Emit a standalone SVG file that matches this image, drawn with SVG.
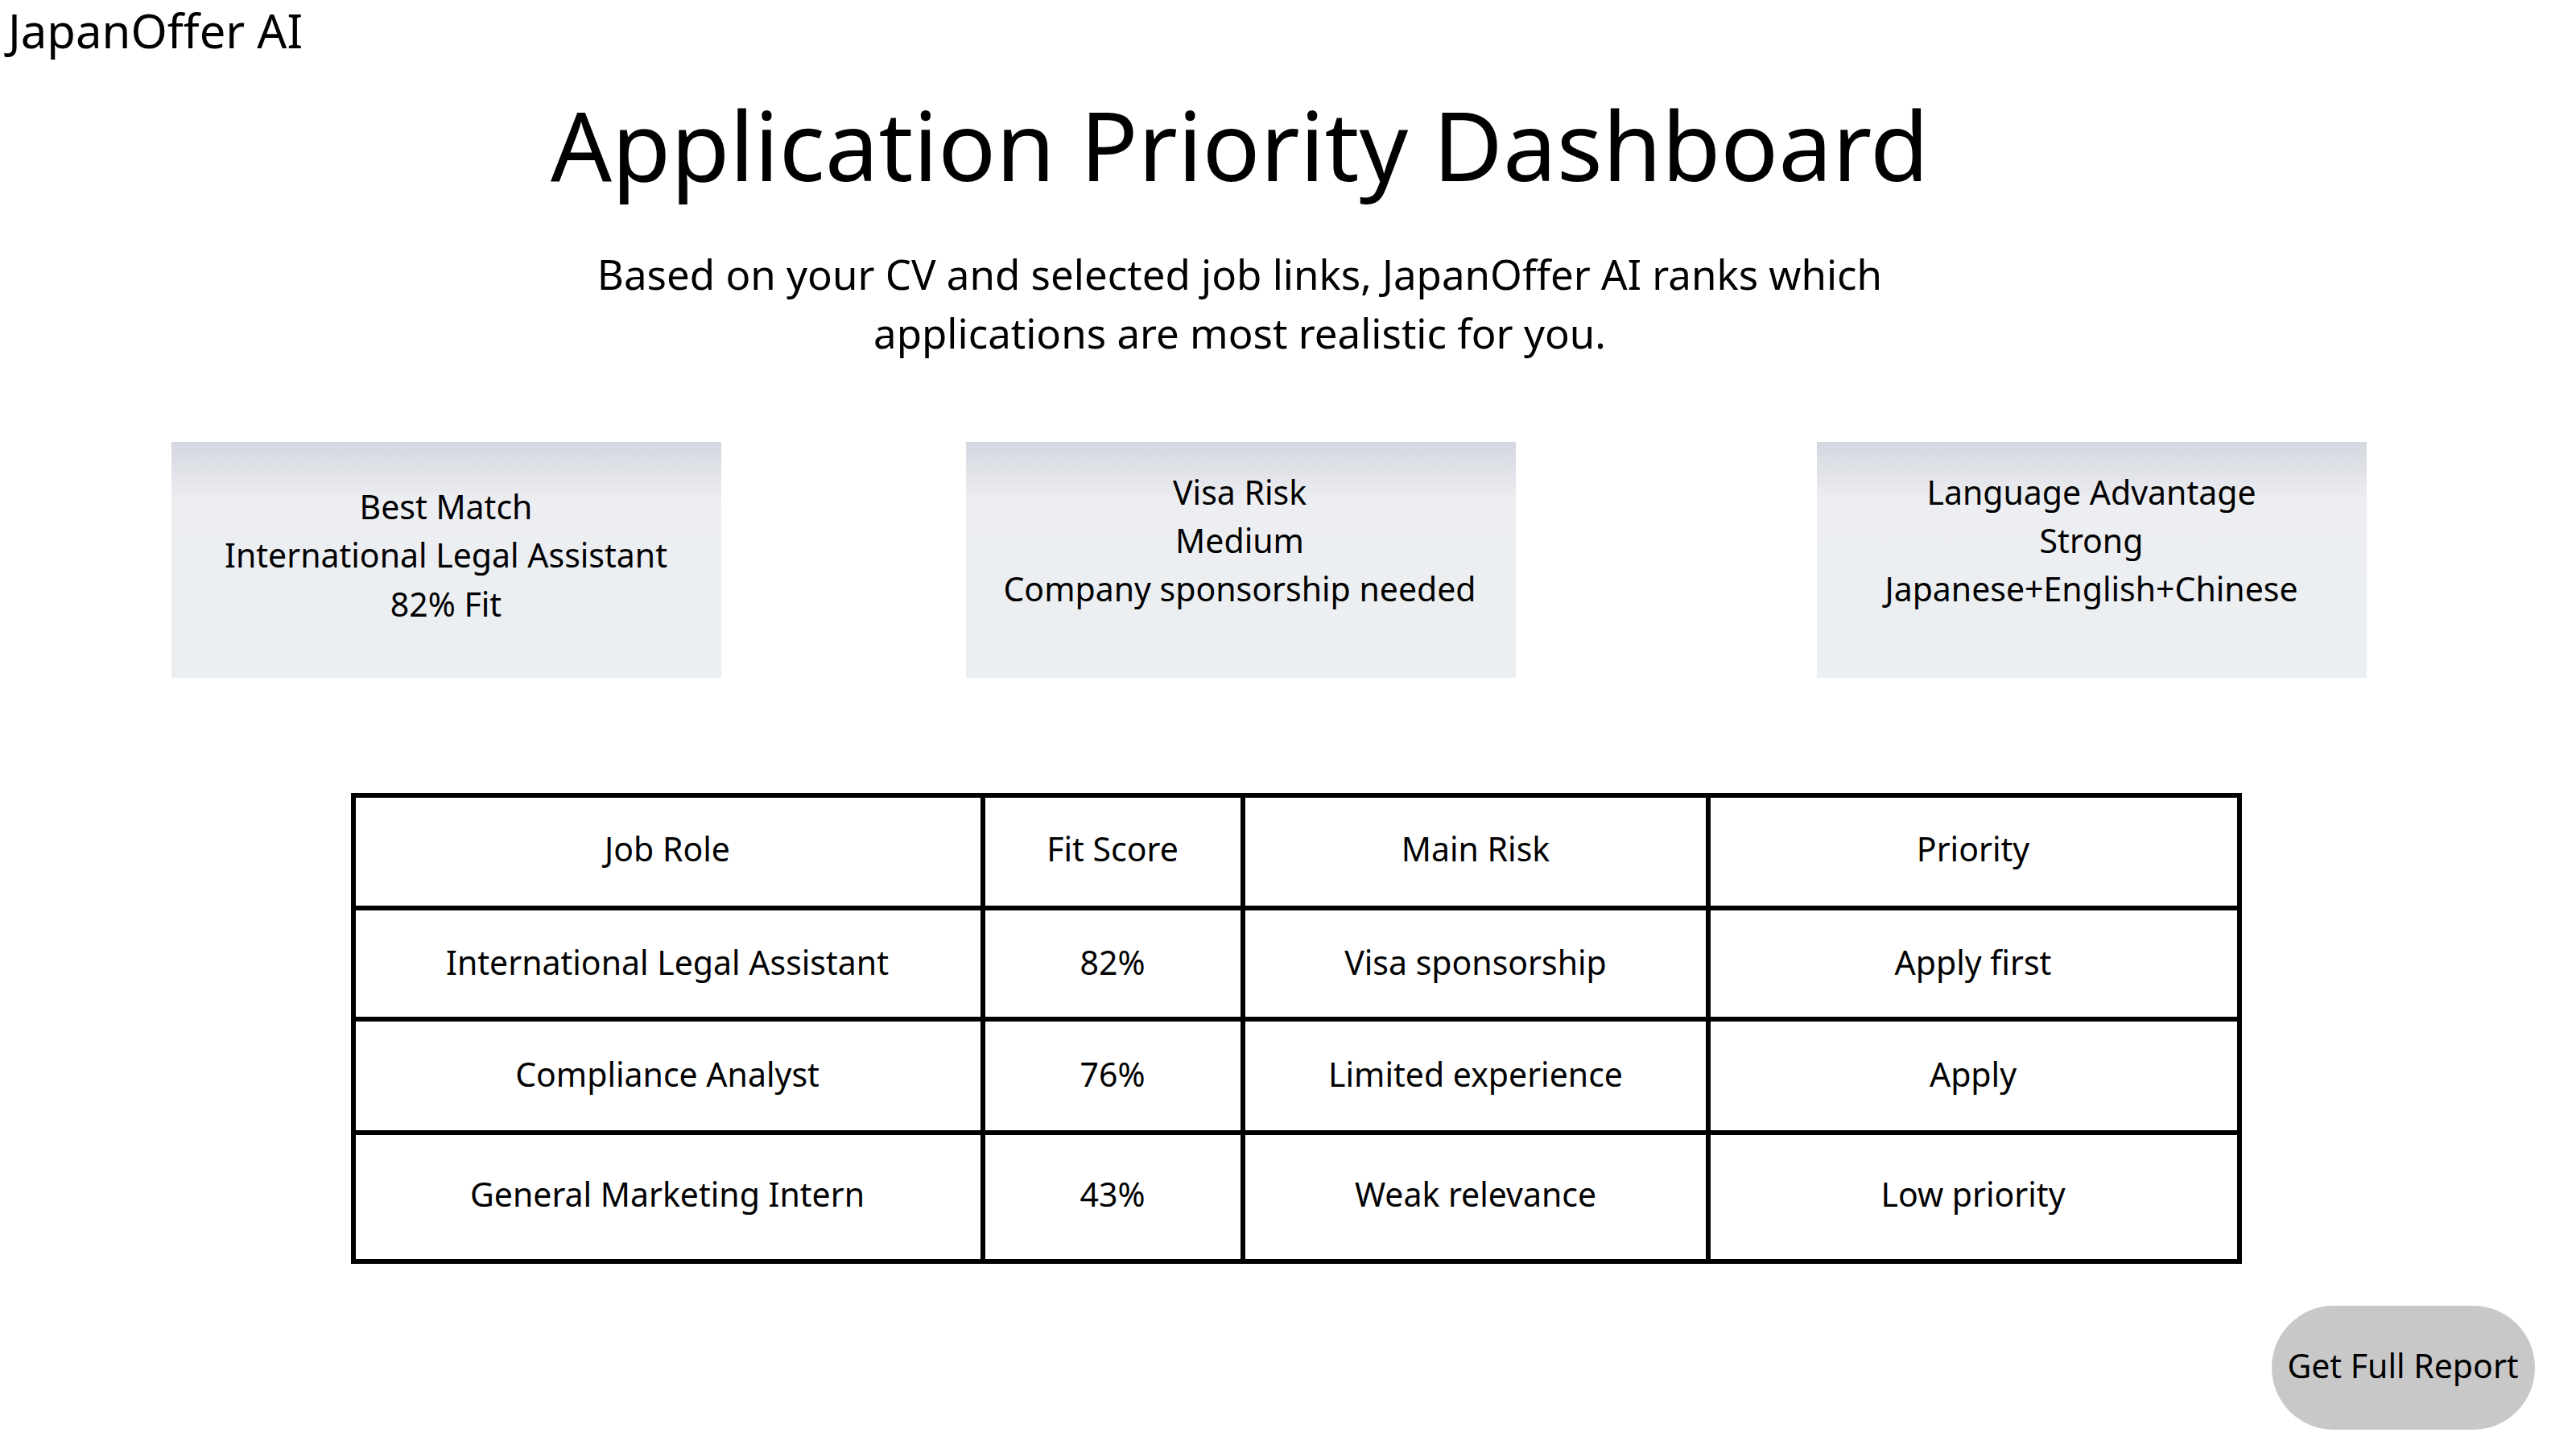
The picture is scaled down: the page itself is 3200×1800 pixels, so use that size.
<svg xmlns="http://www.w3.org/2000/svg" width="3200" height="1800" viewBox="0 0 3200 1800">
<style>
text{font-family:"Noto Sans","Open Sans",sans-serif;fill:#000}
.c{text-anchor:middle;font-size:41px}
.card{fill:url(#g)}
.grid{stroke:#000;stroke-width:6;fill:none}
</style>
<defs><linearGradient id="g" x1="0" y1="0" x2="0" y2="1"><stop offset="0" stop-color="#d5d7e0"/><stop offset="0.25" stop-color="#eceef1"/><stop offset="1" stop-color="#eceff2"/></linearGradient></defs>
<rect width="3200" height="1800" fill="#fff"/>
<text x="10" y="60" font-size="58">JapanOffer AI</text>
<text x="1540" y="225" font-size="119" text-anchor="middle">Application Priority Dashboard</text>
<text class="c" x="1540" y="360" style="font-size:51px">Based on your CV and selected job links, JapanOffer AI ranks which</text>
<text class="c" x="1540" y="433" style="font-size:51px">applications are most realistic for you.</text>
<g id="card-best"><rect class="card" x="213" y="549" width="683" height="293"/>
<text class="c" x="554" y="645">Best Match</text><text class="c" x="554" y="705">International Legal Assistant</text><text class="c" x="554" y="766">82% Fit</text></g>
<g id="card-visa"><rect class="card" x="1200" y="549" width="683" height="293"/>
<text class="c" x="1540" y="627">Visa Risk</text><text class="c" x="1540" y="687">Medium</text><text class="c" x="1540" y="747">Company sponsorship needed</text></g>
<g id="card-lang"><rect class="card" x="2257" y="549" width="683" height="293"/>
<text class="c" x="2598" y="627">Language Advantage</text><text class="c" x="2598" y="687">Strong</text><text class="c" x="2598" y="747">Japanese+English+Chinese</text></g>
<g id="table">
<rect class="grid" x="439" y="988" width="2343" height="579"/>
<path class="grid" d="M1221 988V1567M1544 988V1567M2122 988V1567M439 1128H2782M439 1266H2782M439 1407H2782"/>
<text class="c" x="829" y="1070">Job Role</text><text class="c" x="1382" y="1070">Fit Score</text><text class="c" x="1833" y="1070">Main Risk</text><text class="c" x="2451" y="1070">Priority</text>
<text class="c" x="829" y="1211">International Legal Assistant</text><text class="c" x="1382" y="1211">82%</text><text class="c" x="1833" y="1211">Visa sponsorship</text><text class="c" x="2451" y="1211">Apply first</text>
<text class="c" x="829" y="1350">Compliance Analyst</text><text class="c" x="1382" y="1350">76%</text><text class="c" x="1833" y="1350">Limited experience</text><text class="c" x="2451" y="1350">Apply</text>
<text class="c" x="829" y="1499">General Marketing Intern</text><text class="c" x="1382" y="1499">43%</text><text class="c" x="1833" y="1499">Weak relevance</text><text class="c" x="2451" y="1499">Low priority</text>
</g>
<g id="button"><rect x="2822" y="1622" width="327" height="154" rx="77" fill="#c8c8c8"/>
<text class="c" x="2985" y="1712">Get Full Report</text></g>
<g id="connectors"/>
</svg>
